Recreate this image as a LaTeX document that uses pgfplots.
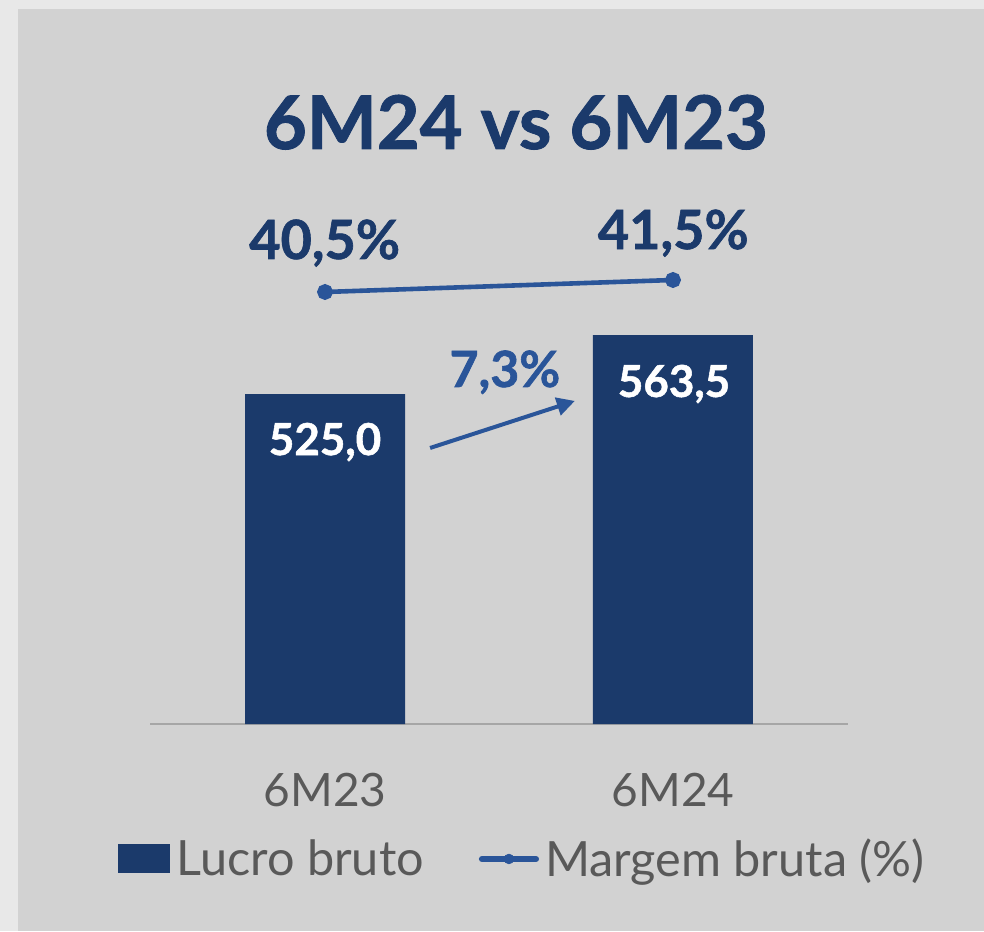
\documentclass[border=0pt]{standalone}
\usepackage{fontspec}
\setmainfont{Lato}
\newfontfamily\heavy{Lato}[FakeBold=1.2]
\usepackage{pgfplots}
\pgfplotsset{compat=1.18}
\usetikzlibrary{arrows.meta}
\definecolor{navy}{HTML}{1B3A6B}
\definecolor{lblue}{HTML}{2A5599}
\definecolor{txtgray}{HTML}{595959}
\definecolor{outerbg}{HTML}{E8E8E8}
\definecolor{innerbg}{HTML}{D2D2D2}
\definecolor{axgray}{HTML}{A6A6A6}
\begin{document}
\begin{tikzpicture}
\fill[outerbg] (0pt,0pt) rectangle (492pt,465.5pt);
\fill[innerbg] (9pt,0pt) rectangle (492pt,461pt);
\node[anchor=base, text=navy, font=\fontsize{37}{40}\selectfont\heavy\bfseries] at (258pt,391pt) {6M24 vs 6M23};
\begin{axis}[
  at={(75pt,103.5pt)}, anchor=south west,
  scale only axis, width=349pt, height=262pt,
  xmin=-0.503, xmax=1.503, ymin=309.7, ymax=651.6,
  axis y line=none, axis x line*=bottom,
  x axis line style={draw=axgray, line width=1pt, -},
  xtick={0,1}, xticklabels={6M23,6M24}, major tick length=0pt,
  xticklabel style={anchor=base, yshift=-41pt, text=txtgray, font=\fontsize{23}{26}\selectfont},
  ytick=\empty,
  ybar, bar width=80pt, bar shift=0pt,
  legend columns=2,
  legend style={at={(-0.0458,-0.2576)}, anchor=west, draw=none, fill=none, inner sep=0pt,
    nodes={inner sep=0pt, text=txtgray, font=\fontsize{24.3}{26}\selectfont},
    /tikz/every odd column/.append style={column sep=3pt},
    /tikz/every even column/.append style={column sep=27.5pt}},
  legend cell align=left,
]
\addplot[fill=navy, draw=none,
  legend image code/.code={\fill[navy] (0pt,-7.25pt) rectangle (26pt,7.25pt);}]
  coordinates {(0,525.0) (1,563.5)};
\addlegendentry{Lucro bruto}
\addlegendimage{legend image code/.code={\draw[lblue, line width=3.2pt, line cap=round] (0.8pt,0pt) -- (27.7pt,0pt); \fill[lblue] (14.25pt,0pt) circle (2.4pt);}}
\addlegendentry{Margem bruta (\%)}
\node[anchor=base, text=white, font=\fontsize{22}{24}\selectfont\heavy\bfseries] at (axis cs:0,485.2) {525,0};
\node[anchor=base, text=white, font=\fontsize{22}{24}\selectfont\heavy\bfseries] at (axis cs:1.003,523.1) {563,5};
\node[anchor=base, text=lblue, font=\fontsize{25}{28}\selectfont\heavy\bfseries] at (axis cs:0.517,529.6) {7,3\%};
\draw[lblue, line width=2pt, -{Triangle[length=9pt,width=9pt]}] (axis cs:0.302,489.8) -- (axis cs:0.718,520.5);
\end{axis}
\begin{axis}[
  at={(75pt,103.5pt)}, anchor=south west,
  scale only axis, width=349pt, height=262pt,
  xmin=-0.503, xmax=1.503, ymin=4.5, ymax=48.167,
  hide axis,
]
\addplot[lblue, line width=2.3pt, mark=*, mark size=2.8pt] coordinates {(0,40.5) (1,41.5)};
\node[anchor=base, text=navy, font=\fontsize{27}{30}\selectfont\heavy\bfseries] at (axis cs:-0.001,43.25) {40,5\%};
\node[anchor=base, text=navy, font=\fontsize{27}{30}\selectfont\heavy\bfseries] at (axis cs:1.001,44.08) {41,5\%};
\end{axis}
\end{tikzpicture}
\end{document}
